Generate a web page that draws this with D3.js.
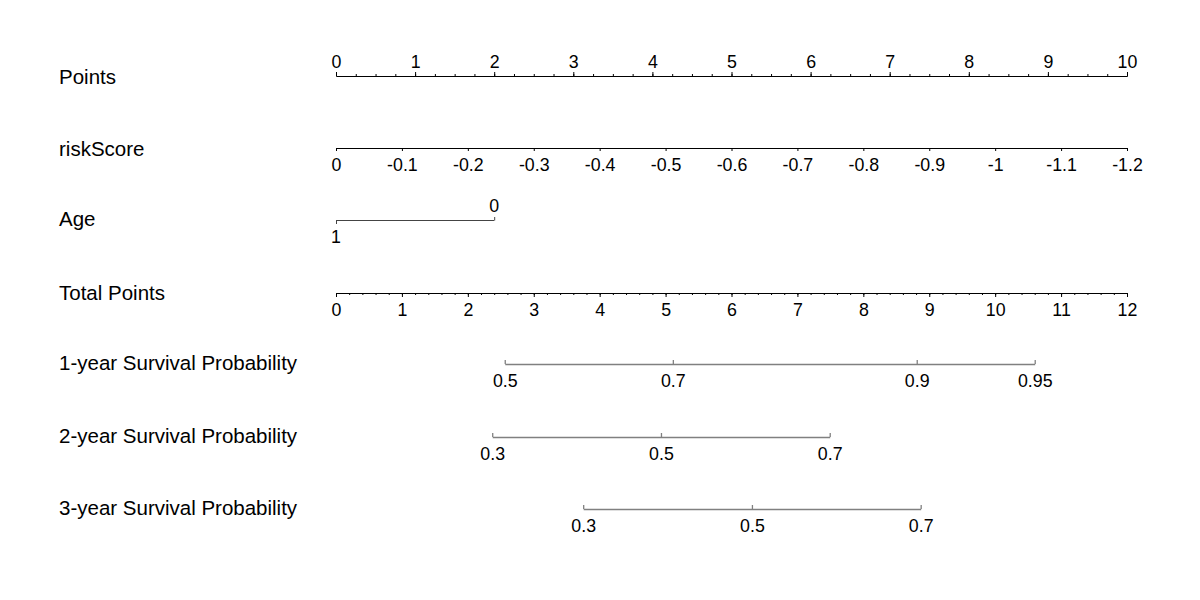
<!DOCTYPE html>
<html>
<head>
<meta charset="utf-8">
<script src="https://cdn.jsdelivr.net/npm/d3@7"></script>
<style>
  html, body { margin: 0; padding: 0; background: #fff; }
  svg { display: block; }
  text { font-family: "Liberation Sans", Arial, sans-serif; fill: #000; }
</style>
</head>
<body>
<svg id="chart" width="1200" height="600"></svg>
<script>
// ---- data ----
const rowLabels = ["Points", "riskScore", "Age", "Total Points",
  "1-year Survival Probability", "2-year Survival Probability", "3-year Survival Probability"];

const pointsTicks = [0, 1, 2, 3, 4, 5, 6, 7, 8, 9, 10];
const pointsMinorStep = 0.25;

const riskScoreTicks = [0, -0.1, -0.2, -0.3, -0.4, -0.5, -0.6, -0.7, -0.8, -0.9, -1, -1.1, -1.2];
const riskScorePoints = [0, 10];          // riskScore 0 -> 0 pts, -1.2 -> 10 pts
const riskScoreRange = [0, -1.2];

const ageLevels = [1, 0];
const agePoints = [0, 2];

const totalTicks = [0, 1, 2, 3, 4, 5, 6, 7, 8, 9, 10, 11, 12];
const totalMinorStep = 0.2;

const surv1Values = [0.5, 0.7, 0.9, 0.95];
const surv1Total = [2.56, 5.11, 8.81, 10.60];
const surv2Values = [0.3, 0.5, 0.7];
const surv2Total = [2.37, 4.93, 7.49];
const surv3Values = [0.3, 0.5, 0.7];
const surv3Total = [3.75, 6.31, 8.87];

// ---- layout ----
const svg = d3.select("#chart");
const x0 = 336, x1 = 1127;
const rowY = [76, 148, 220, 293, 364, 437, 509];
const labelY = [84, 156, 226, 300, 370, 443, 515];
const tickFont = 17.8, labelFont = 20.5;

const xPoints = d3.scaleLinear().domain([0, 10]).range([x0, x1]);
const xTotal = d3.scaleLinear().domain([0, 12]).range([x0, x1]);

// row labels
svg.append("g").selectAll("text").data(rowLabels).join("text")
  .attr("x", 59).attr("y", (d, i) => labelY[i])
  .attr("font-size", labelFont).text(d => d);

function styleAxis(g, color, width) {
  g.select(".domain").attr("stroke", color).attr("stroke-width", width);
  g.selectAll(".tick line").attr("stroke", color).attr("stroke-width", width);
  g.selectAll(".tick text").attr("font-size", tickFont)
    .attr("font-family", '"Liberation Sans", Arial, sans-serif').attr("fill", "#000");
}

// Points axis (ticks up, labels above)
{
  const minor = d3.range(0, 10 + 1e-9, pointsMinorStep);
  const gMinor = svg.append("g").attr("transform", `translate(0,${rowY[0]})`)
    .call(d3.axisTop(xPoints).tickValues(minor).tickSize(2).tickSizeOuter(0).tickFormat(""));
  styleAxis(gMinor, "#000", 1);
  const g = svg.append("g").attr("transform", `translate(0,${rowY[0]})`)
    .call(d3.axisTop(xPoints).tickValues(pointsTicks).tickSize(4).tickSizeOuter(0).tickFormat(d3.format("d")));
  styleAxis(g, "#000", 1);
  g.selectAll(".tick text").attr("y", -8.5).attr("dy", 0);
}

// riskScore axis (ticks down, labels below)
{
  const xr = d3.scaleLinear().domain(riskScoreRange).range(riskScorePoints.map(xPoints));
  const g = svg.append("g").attr("transform", `translate(0,${rowY[1]})`)
    .call(d3.axisBottom(xr).tickValues(riskScoreTicks).tickSize(3).tickSizeOuter(0).tickFormat(d => String(+d.toFixed(1))));
  styleAxis(g, "#000", 1);
  g.selectAll(".tick text").attr("y", 23).attr("dy", 0);
}

// Age (level 1 below, level 0 above)
{
  const xa = d3.scaleLinear().domain(ageLevels).range(agePoints.map(xPoints));
  const g = svg.append("g").attr("transform", `translate(0,${rowY[2]})`);
  g.append("line").attr("x1", xa(ageLevels[0])).attr("x2", xa(ageLevels[1]))
    .attr("y1", 0.5).attr("y2", 0.5).attr("stroke", "#444").attr("stroke-width", 1);
  ageLevels.forEach((lv, i) => {
    const up = i === 1;
    g.append("line").attr("x1", xa(lv) + 0.5).attr("x2", xa(lv) + 0.5)
      .attr("y1", 0.5).attr("y2", up ? -3 : 4).attr("stroke", "#444");
    g.append("text").attr("x", xa(lv)).attr("y", up ? -8.5 : 22.5)
      .attr("text-anchor", "middle").attr("font-size", tickFont).text(lv);
  });
}

// Total Points axis
{
  const minor = d3.range(0, 12 + 1e-9, totalMinorStep);
  const gMinor = svg.append("g").attr("transform", `translate(0,${rowY[3]})`)
    .call(d3.axisBottom(xTotal).tickValues(minor).tickSize(2).tickSizeOuter(0).tickFormat(""));
  styleAxis(gMinor, "#000", 1);
  const g = svg.append("g").attr("transform", `translate(0,${rowY[3]})`)
    .call(d3.axisBottom(xTotal).tickValues(totalTicks).tickSize(4).tickSizeOuter(0).tickFormat(d3.format("d")));
  styleAxis(g, "#000", 1);
  g.selectAll(".tick text").attr("y", 22.5).attr("dy", 0);
}

// Survival axes (ticks up, labels below)
[[surv1Values, surv1Total], [surv2Values, surv2Total], [surv3Values, surv3Total]].forEach(([vals, tot], k) => {
  const xs = d3.scaleLinear().domain(vals).range(tot.map(xTotal));
  const y = rowY[4 + k];
  const g = svg.append("g").attr("transform", `translate(0,${y})`)
    .call(d3.axisTop(xs).tickValues(vals).tickSize(4).tickSizeOuter(0).tickFormat(d => String(d)));
  styleAxis(g, "#808080", 1.3);
  g.selectAll(".tick text").attr("y", 22.5).attr("dy", 0);
});
</script>
</body>
</html>
